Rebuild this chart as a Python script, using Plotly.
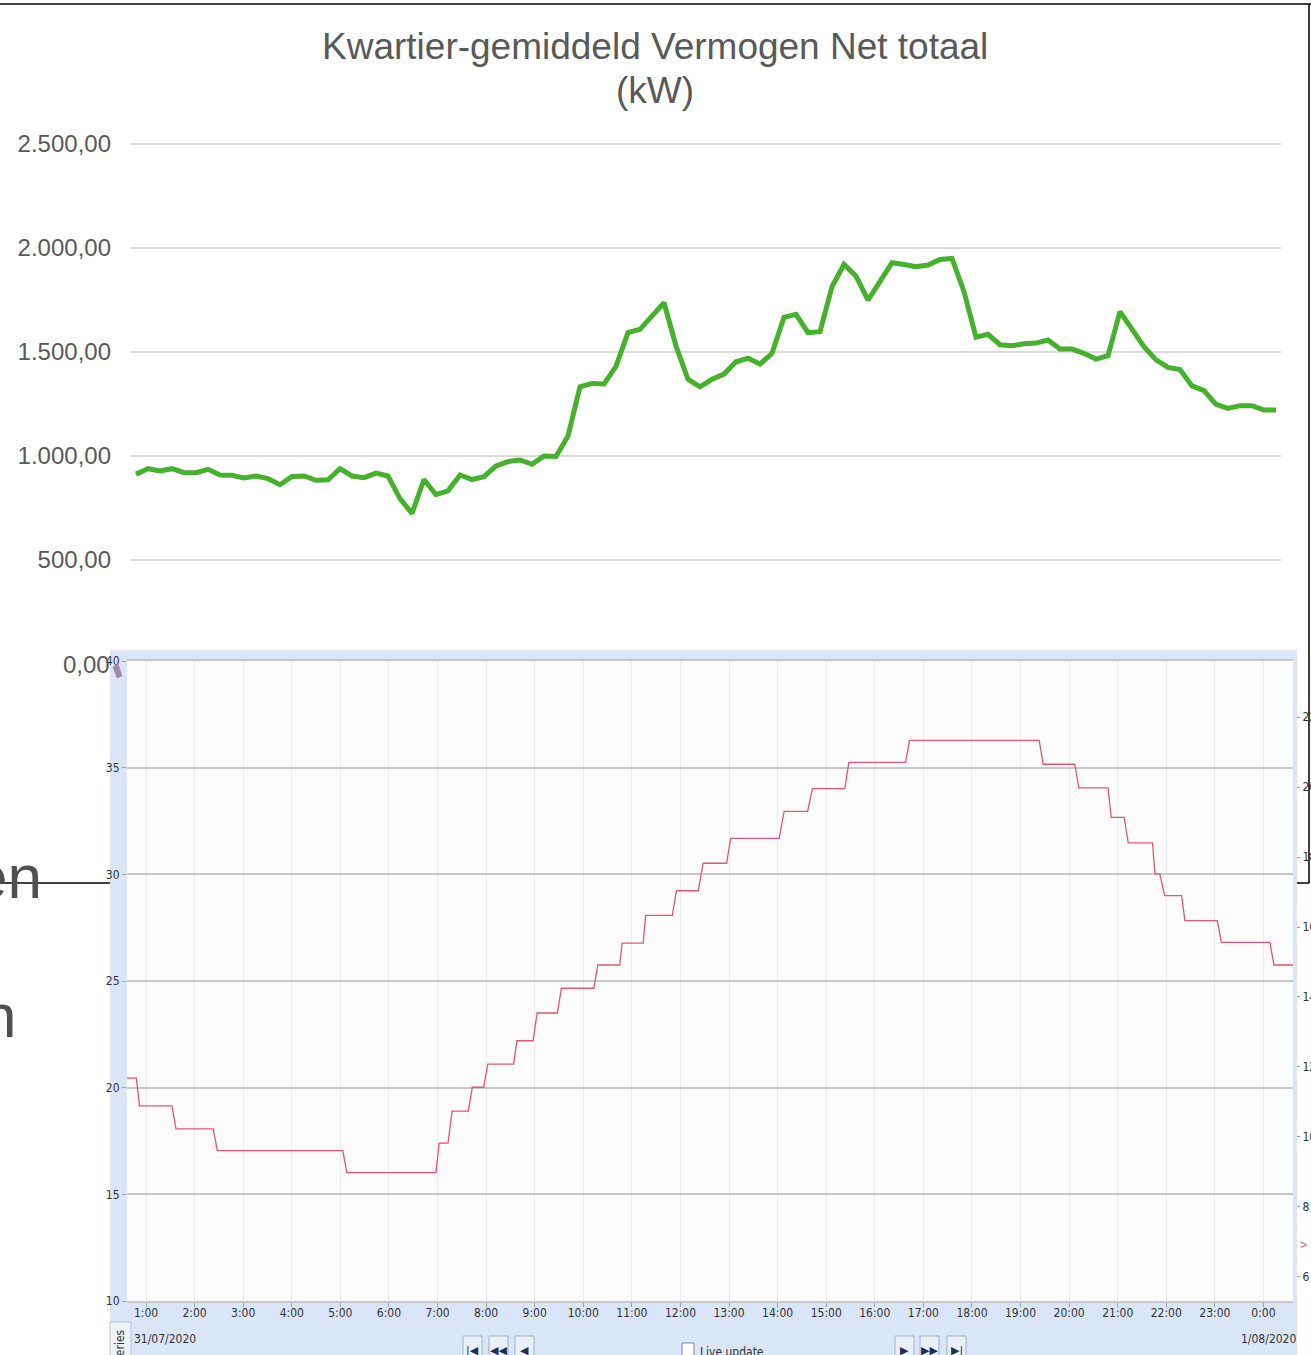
import plotly.graph_objects as go

W, H = 1311, 1355

# --- top chart: quarter-hour averaged net power (kW), 31/07/2020 ---
power_kw = [913, 939, 928, 939, 920, 920, 936, 909, 907, 894, 904, 891,
            862, 902, 904, 883, 886, 939, 904, 896, 918, 904, 795, 724,
            887, 814, 833, 909, 887, 901, 952, 973, 981, 960, 1000, 998,
            1096, 1333, 1349, 1346, 1431, 1593, 1609, 1673, 1737, 1529, 1369, 1333,
            1369, 1394, 1453, 1470, 1442, 1494, 1667, 1681, 1593, 1598, 1814, 1921,
            1865, 1750, 1838, 1929, 1921, 1910, 1918, 1945, 1950, 1790, 1571, 1585,
            1535, 1530, 1540, 1543, 1558, 1514, 1514, 1494, 1466, 1482, 1694, 1606,
            1526, 1462, 1426, 1416, 1337, 1314, 1248, 1229, 1242, 1242, 1221, 1221]
quarters = [f"{m // 60:02d}:{m % 60:02d}" for m in range(0, 1440, 15)]
power_ticks = [500, 1000, 1500, 2000, 2500]

# --- bottom screenshot: temperature trend (step line) ---
temp_time = [
    "2020-07-31 00:35", "2020-07-31 00:48", "2020-07-31 00:52", "2020-07-31 01:32",
    "2020-07-31 01:37", "2020-07-31 02:23", "2020-07-31 02:28", "2020-07-31 05:03",
    "2020-07-31 05:08", "2020-07-31 06:58", "2020-07-31 07:02", "2020-07-31 07:13",
    "2020-07-31 07:18", "2020-07-31 07:38", "2020-07-31 07:43", "2020-07-31 07:57",
    "2020-07-31 08:02", "2020-07-31 08:34", "2020-07-31 08:38", "2020-07-31 08:58",
    "2020-07-31 09:03", "2020-07-31 09:28", "2020-07-31 09:33", "2020-07-31 10:13",
    "2020-07-31 10:18", "2020-07-31 10:45", "2020-07-31 10:48", "2020-07-31 11:14",
    "2020-07-31 11:17", "2020-07-31 11:50", "2020-07-31 11:55", "2020-07-31 12:22",
    "2020-07-31 12:28", "2020-07-31 12:57", "2020-07-31 13:02", "2020-07-31 14:02",
    "2020-07-31 14:08", "2020-07-31 14:37", "2020-07-31 14:43", "2020-07-31 15:23",
    "2020-07-31 15:28", "2020-07-31 16:38", "2020-07-31 16:43", "2020-07-31 19:23",
    "2020-07-31 19:28", "2020-07-31 20:07", "2020-07-31 20:12", "2020-07-31 20:48",
    "2020-07-31 20:52", "2020-07-31 21:08", "2020-07-31 21:13", "2020-07-31 21:43",
    "2020-07-31 21:46", "2020-07-31 21:52", "2020-07-31 21:58", "2020-07-31 22:19",
    "2020-07-31 22:23", "2020-07-31 23:03", "2020-07-31 23:08", "2020-08-01 00:08",
    "2020-08-01 00:13", "2020-08-01 00:39",
]
temp_value = [
    20.45, 20.45, 19.15, 19.15, 18.07, 18.07, 17.05, 17.05,
    16.02, 16.02, 17.40, 17.40, 18.90, 18.90, 20.02, 20.02,
    21.10, 21.10, 22.20, 22.20, 23.50, 23.50, 24.66, 24.66,
    25.75, 25.75, 26.78, 26.78, 28.08, 28.08, 29.23, 29.23,
    30.52, 30.52, 31.69, 31.69, 32.95, 32.95, 34.02, 34.02,
    35.25, 35.25, 36.28, 36.28, 35.16, 35.16, 34.05, 34.05,
    32.67, 32.67, 31.47, 31.47, 30.02, 30.02, 29.00, 29.00,
    27.83, 27.83, 26.81, 26.81, 25.75, 25.75,
]
right_ticks = [6, 8, 10, 12, 14, 16, 18, 20, 22]
date_labels = ["31/07/2020", "1/08/2020"]

GREEN = "#46b12d"
RED = "#e4566f"
GREY_TXT = "#595959"
SANS = "Liberation Sans, Arial, sans-serif"
NARROW = "Liberation Sans Narrow, DejaVu Sans Condensed, Arial Narrow, sans-serif"


def px(x):
    return x / W


def py(y):
    return 1 - y / H


fig = go.Figure()

fig.add_trace(go.Scatter(x=quarters, y=power_kw, mode="lines",
                         line=dict(color=GREEN, width=5),
                         xaxis="x", yaxis="y", hoverinfo="skip"))
fig.add_trace(go.Scatter(x=temp_time, y=temp_value, mode="lines",
                         line=dict(color=RED, width=1.3),
                         xaxis="x2", yaxis="y2", hoverinfo="skip"))
# empty trace so the right-hand axis gets drawn
fig.add_trace(go.Scatter(x=[], y=[], xaxis="x2", yaxis="y3"))

fig.update_layout(
    width=W, height=H, autosize=False,
    margin=dict(l=0, r=0, t=0, b=0, pad=0, autoexpand=False),
    paper_bgcolor="white", plot_bgcolor="rgba(0,0,0,0)",
    showlegend=False,
    separators=",.",
    xaxis=dict(domain=[px(131), px(1281)], type="category",
               range=[-0.4167, 95.4167], visible=False, anchor="y",
               automargin=False),
    yaxis=dict(domain=[py(650), py(143)], range=[67.3, 2505], anchor="x",
               tickvals=power_ticks, tickformat=",.2f",
               gridcolor="#d9d9d9", gridwidth=1.5, zeroline=False,
               showline=False, ticks="", ticklabelstandoff=19, automargin=False,
               tickfont=dict(family=SANS, size=24, color=GREY_TXT)),
    xaxis2=dict(domain=[px(127), px(1293)], type="date", anchor="y2",
                range=["2020-07-31 00:36:30", "2020-08-01 00:36:30"],
                tick0="2020-07-31 00:00", dtick=3600000, tickformat="%-H:%M",
                ticks="outside", ticklen=4, tickcolor="#a0a0a0",
                ticklabelstandoff=-4, automargin=False,
                tickfont=dict(family=NARROW, size=12, color="#333333"),
                showgrid=True, gridcolor="#ececec", gridwidth=1,
                showline=True, mirror=True, linecolor="#c8c8c8", linewidth=1.5,
                zeroline=False),
    yaxis2=dict(domain=[py(1301), py(661)], range=[10, 40], dtick=5,
                anchor="x2", ticks="outside", ticklen=4, tickcolor="#a0a0a0",
                automargin=False,
                tickfont=dict(family=NARROW, size=12, color="#333333"),
                gridcolor="#c8c8c8", gridwidth=1.5, zeroline=False,
                showline=False),
    yaxis3=dict(overlaying="y2", side="right", anchor="free",
                position=px(1296), range=[5.314, 23.6],
                tickvals=right_ticks, ticks="outside", ticklen=3,
                tickcolor="#a0a0a0", showgrid=False, zeroline=False,
                ticklabelstandoff=0, automargin=False,
                tickfont=dict(family=NARROW, size=12, color="#333333")),
)

# screenshot frame and backgrounds
shapes = [
    dict(type="rect", x0=px(110), x1=px(1297), y0=py(1360), y1=py(650),
         fillcolor="#dae6f7", line=dict(width=0), layer="below"),
    dict(type="rect", x0=px(127), x1=px(1293), y0=py(1301), y1=py(661),
         fillcolor="#fcfcfc", line=dict(width=0), layer="below"),
    dict(type="rect", x0=px(110), x1=px(131), y0=py(1362), y1=py(1322),
         fillcolor="#eef3fa", line=dict(color="#b5c4d8", width=1), layer="below"),
    dict(type="rect", x0=px(682), x1=px(694), y0=py(1362), y1=py(1343),
         fillcolor="white", line=dict(color="#888888", width=1), layer="below"),
]
buttons = [(463, "|◀"), (489, "◀◀"), (515, "◀"), (895, "▶"), (920, "▶▶"), (947, "▶|")]
for bx, _ in buttons:
    shapes.append(dict(type="rect", x0=px(bx), x1=px(bx + 19), y0=py(1362), y1=py(1336),
                       fillcolor="#eaf0f8", line=dict(color="#9fb0c8", width=1),
                       layer="below"))
# small scroll icon at the top-left corner of the trend plot
icon = [(113, 667), (118, 664), (122, 676), (117, 678)]
path = "M " + " L ".join(f"{px(x)},{py(y)}" for x, y in icon) + " Z"
shapes.append(dict(type="path", path=path, fillcolor="#8c8fb4",
                   line=dict(color="#e07b8c", width=0.8), layer="above"))
# black slide border
for x0, y0, x1, y1 in [(0, 4, 1311, 4), (1309, 4, 1309, 883),
                       (0, 883, 110, 883), (1297, 883, 1309, 883)]:
    shapes.append(dict(type="line", x0=px(x0), x1=px(x1), y0=py(y0), y1=py(y1),
                       line=dict(color="black", width=1.5), layer="above"))
for s in shapes:
    s.update(xref="paper", yref="paper")
fig.update_layout(shapes=shapes)

ann = [
    dict(text="Kwartier-gemiddeld Vermogen Net totaal", x=px(654.5), y=py(47),
         font=dict(family=SANS, size=37, color=GREY_TXT)),
    dict(text="(kW)", x=px(654.5), y=py(91),
         font=dict(family=SANS, size=37, color=GREY_TXT)),
    dict(text="0,00", x=px(112), y=py(664), xanchor="right",
         font=dict(family=SANS, size=24, color=GREY_TXT)),
    dict(text="en", x=px(44), y=py(876), xanchor="right",
         font=dict(family=SANS, size=62, color="#505050")),
    dict(text="n", x=px(18), y=py(1016), xanchor="right",
         font=dict(family=SANS, size=62, color="#505050")),
    dict(text=date_labels[0], x=px(132), y=py(1339), xanchor="left",
         font=dict(family=NARROW, size=12, color="#333333")),
    dict(text=date_labels[1], x=px(1298), y=py(1339), xanchor="right",
         font=dict(family=NARROW, size=12, color="#333333")),
    dict(text="Series", x=px(120), y=py(1346), textangle=-90,
         font=dict(family=NARROW, size=12, color="#333333")),
    dict(text="Live update", x=px(698), y=py(1352), xanchor="left",
         font=dict(family=NARROW, size=12, color="#333333")),
    dict(text=">", x=px(1303), y=py(1245),
         font=dict(family=SANS, size=12, color=RED)),
]
for bx, glyph in buttons:
    ann.append(dict(text=glyph, x=px(bx + 9.5), y=py(1350),
                    font=dict(family="DejaVu Sans", size=11, color="#1f2d5a")))
for a in ann:
    a.setdefault("xanchor", "center")
    a.update(xref="paper", yref="paper", yanchor="middle", showarrow=False)
fig.update_layout(annotations=ann)

# drop the browser's default 8px body margin so the figure sits at the page corner
fig.write_html("out.html", config={"displayModeBar": False},
               post_script="document.body.style.margin='0';")
